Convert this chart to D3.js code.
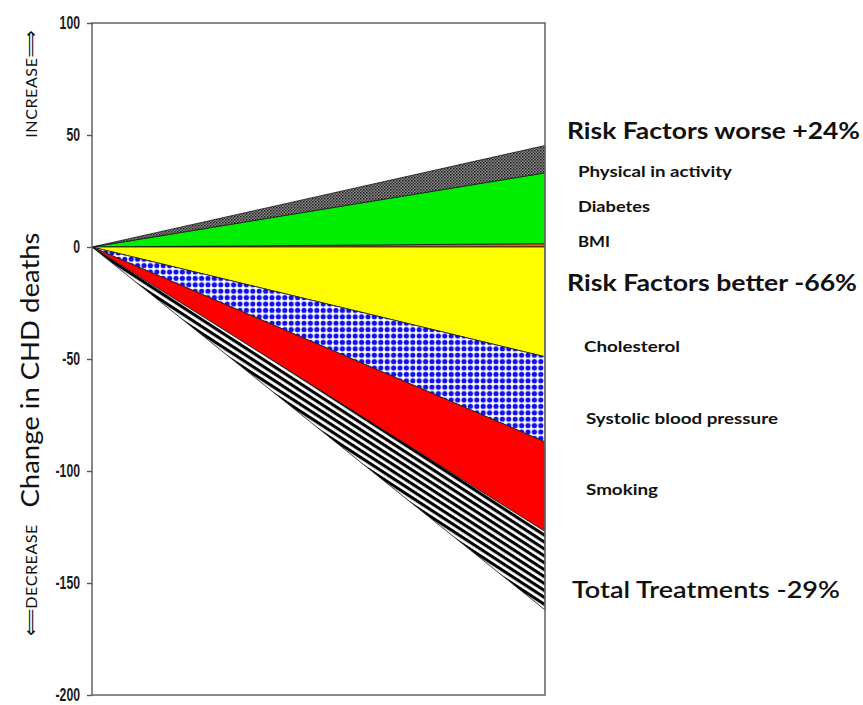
<html>
  <head>
    <meta charset="utf-8">
    <!-- Load d3.js -->
    <script src="https://d3js.org/d3.v7.min.js"></script>
    <style>
      body { margin: 0; background: #fff; }
    </style>
  </head>
  <body>
    <div id="my_dataviz"></div>

  <script>
    // risk factors that pushed deaths up (stacked from 0 upwards)
    const upNames  = ['BMI', 'Diabetes', 'Physical in activity']
    const upValues = [1.5, 31.6, 12.2]

    // factors that pushed deaths down (stacked from 0 downwards)
    const downNames  = ['Cholesterol', 'Systolic blood pressure', 'Smoking', 'Total Treatments']
    const downValues = [-49, -38, -40, -35]

    const yTicks = [100, 50, 0, -50, -100, -150, -200]

    const headings  = ['Risk Factors worse +24%', 'Risk Factors better -66%', 'Total Treatments -29%']
    const subLabels = ['Physical in activity', 'Diabetes', 'BMI', 'Cholesterol', 'Systolic blood pressure', 'Smoking']

    const fills = {
      'BMI': '#e0600f',
      'Diabetes': '#00ee00',
      'Physical in activity': 'url(#greyDots)',
      'Cholesterol': '#ffff00',
      'Systolic blood pressure': 'url(#blueDots)',
      'Smoking': '#ff0000',
      'Total Treatments': 'url(#stripes)'
    }

    // plot box
    const box = {left: 92, right: 545, top: 23, bottom: 695}

    const svg = d3.select("#my_dataviz")
      .append("svg")
        .attr("width", 863)
        .attr("height", 705)

    const x = d3.scaleLinear().domain([0, 1]).range([box.left, box.right])
    const y = d3.scaleLinear().domain([-200, 100]).range([box.bottom, box.top])

    // patterns
    const defs = svg.append("defs")

    const pg = defs.append("pattern").attr("id", "greyDots")
      .attr("patternUnits", "userSpaceOnUse").attr("width", 3).attr("height", 3)
    pg.append("rect").attr("width", 3).attr("height", 3).attr("fill", "#8a8a8a")
    pg.append("rect").attr("width", 1.5).attr("height", 1.5).attr("fill", "#1e1e1e")
    pg.append("rect").attr("x", 1.5).attr("y", 1.5).attr("width", 1.5).attr("height", 1.5).attr("fill", "#3a3a3a")

    const pb = defs.append("pattern").attr("id", "blueDots")
      .attr("patternUnits", "userSpaceOnUse").attr("width", 6.4).attr("height", 6.4)
    pb.append("rect").attr("width", 6.4).attr("height", 6.4).attr("fill", "#fff")
    pb.append("circle").attr("cx", 3.2).attr("cy", 3.2).attr("r", 2.6).attr("fill", "#1010e8")

    const ps = defs.append("pattern").attr("id", "stripes")
      .attr("patternUnits", "userSpaceOnUse").attr("width", 10).attr("height", 5.8)
      .attr("patternTransform", "rotate(33)")
    ps.append("rect").attr("width", 10).attr("height", 5.8).attr("fill", "#fff")
    ps.append("rect").attr("width", 10).attr("height", 3.1).attr("fill", "#000")

    // build the stacked wedges
    let layers = []
    let acc = 0
    upNames.forEach((n, i) => {
      layers.push({name: n, lo: acc, hi: acc + upValues[i]})
      acc += upValues[i]
    })
    acc = 0
    downNames.forEach((n, i) => {
      layers.push({name: n, lo: acc, hi: acc + downValues[i]})
      acc += downValues[i]
    })

    const area = d3.area()
      .x(d => x(d.t))
      .y0(d => y(d.lo))
      .y1(d => y(d.hi))

    svg.selectAll("path.wedge")
      .data(layers)
      .join("path")
        .attr("class", "wedge")
        .attr("d", d => area([{t: 0, lo: 0, hi: 0}, {t: 1, lo: d.lo, hi: d.hi}]))
        .attr("fill", d => fills[d.name])
        .attr("stroke", "#1a1a1a")
        .attr("stroke-width", 0.8)
        .attr("stroke-linejoin", "round")

    // frame
    svg.append("rect")
      .attr("x", box.left).attr("y", box.top)
      .attr("width", box.right - box.left).attr("height", box.bottom - box.top)
      .attr("fill", "none")
      .attr("stroke", "#6a6a6a")
      .attr("stroke-width", 1.6)

    // y axis
    const yAxis = svg.append("g")
      .attr("transform", `translate(${box.left},0)`)
      .call(d3.axisLeft(y).tickValues(yTicks).tickSize(5).tickFormat(d => String(d)))
    yAxis.select(".domain").remove()
    yAxis.selectAll(".tick line").attr("stroke", "#555").attr("stroke-width", 1.4)
    yAxis.selectAll(".tick text")
      .attr("x", -12 / 0.68)
      .attr("dy", "0.3em")
      .attr("transform", "scale(0.68,1)")
      .attr("font-family", "'Liberation Sans', Arial, sans-serif")
      .attr("font-weight", 700)
      .attr("font-size", 18)
      .attr("fill", "#1a1a1a")

    // y label and direction hints
    svg.append("text")
      .attr("transform", "translate(29,370) rotate(-90)")
      .attr("text-anchor", "middle")
      .attr("dominant-baseline", "central")
      .attr("font-family", "Lato, 'Open Sans', sans-serif")
      .attr("font-size", 25)
      .attr("textLength", 275)
      .attr("lengthAdjust", "spacingAndGlyphs")
      .attr("fill", "#111")
      .text("Change in CHD deaths")

    const inc = svg.append("text")
      .attr("transform", "translate(30,84) rotate(-90)")
      .attr("text-anchor", "middle")
      .attr("dominant-baseline", "central")
      .attr("font-family", "Lato, sans-serif")
      .attr("font-size", 16)
      .attr("fill", "#111")
    inc.append("tspan").attr("letter-spacing", 0.6).text("INCREASE")
    inc.append("tspan").attr("font-family", "'DejaVu Sans', sans-serif").attr("font-size", 19).text("\u27F9")

    const dec = svg.append("text")
      .attr("transform", "translate(30,580) rotate(-90)")
      .attr("text-anchor", "middle")
      .attr("dominant-baseline", "central")
      .attr("font-family", "Lato, sans-serif")
      .attr("font-size", 16)
      .attr("fill", "#111")
    dec.append("tspan").attr("font-family", "'DejaVu Sans', sans-serif").attr("font-size", 19).text("\u27F8")
    dec.append("tspan").attr("letter-spacing", 0.6).text("DECREASE")

    // right hand labels
    const labelLayout = [
      {t: headings[0],  x: 567, y: 139, size: 23, weight: 700, w: 293},
      {t: subLabels[0], x: 578, y: 177, size: 15, weight: 700, w: 154},
      {t: subLabels[1], x: 578, y: 212, size: 15, weight: 700, w: 72},
      {t: subLabels[2], x: 578, y: 247, size: 15, weight: 700, w: 32},
      {t: headings[1],  x: 567, y: 291, size: 23, weight: 700, w: 290},
      {t: subLabels[3], x: 584, y: 352, size: 15, weight: 700, w: 96},
      {t: subLabels[4], x: 586, y: 424, size: 15, weight: 700, w: 192},
      {t: subLabels[5], x: 586, y: 495, size: 15, weight: 700, w: 72},
      {t: headings[2],  x: 572, y: 598, size: 23, weight: 600, w: 268}
    ]

    svg.selectAll("text.lab")
      .data(labelLayout)
      .join("text")
        .attr("class", "lab")
        .attr("x", d => d.x)
        .attr("y", d => d.y)
        .attr("font-family", "Lato, 'Open Sans', sans-serif")
        .attr("font-size", d => d.size)
        .attr("font-weight", d => d.weight)
        .attr("textLength", d => d.w)
        .attr("lengthAdjust", "spacingAndGlyphs")
        .attr("fill", "#111")
        .text(d => d.t)
  </script>
  </body>
</html>
